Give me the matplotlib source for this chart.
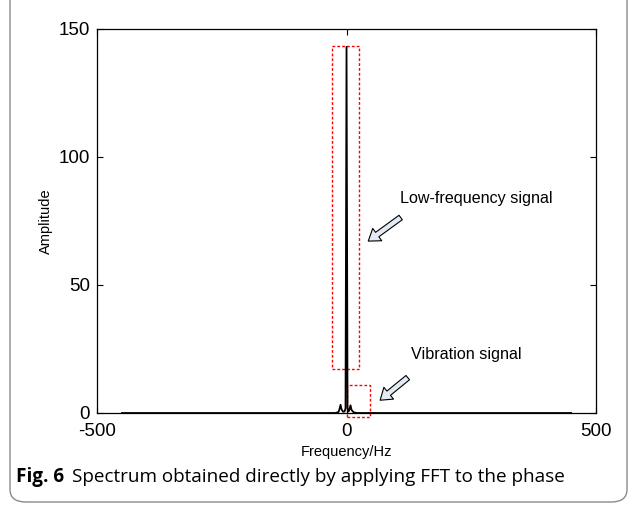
import matplotlib
matplotlib.use('Agg')
import matplotlib.pyplot as plt
from matplotlib.patches import Rectangle, FancyArrowPatch, FancyBboxPatch

# spectrum samples (Hz, amplitude)
freq = [-450, -22, -16, -14, -12, -10, -7, -4, -2, 0, 2, 4, 6, 8, 10, 14, 20, 450]
amp = [0, 0, 0.4, 1.6, 3.2, 1.4, 0.5, 0.6, 1.8, 143, 1.8, 0.6, 1.5, 3.0, 1.2, 0.3, 0, 0]

xticks = [-500, 0, 500]
yticks = [0, 50, 100, 150]

# boxes around the two spectral features (x0, y0, x1, y1)
low_box = (-29, 17.2, 25, 143.4)
vib_box = (0, -1.5, 47, 11)

plt.rcParams['font.family'] = ['Liberation Sans', 'DejaVu Sans']
plt.rcParams['axes.unicode_minus'] = False

fig = plt.figure(figsize=(6.37, 5.05), dpi=100)
ax = fig.add_axes([0.1523, 0.1822, 0.7834, 0.7604])

ax.plot(freq, amp, color='black', lw=1.3)

ax.set_xlim(-500, 500)
ax.set_ylim(0, 150)
ax.set_xticks(xticks)
ax.set_yticks(yticks)
ax.tick_params(direction='in', top=True, right=True, length=4, width=0.8,
               labelsize=13.5, pad=5)
ax.tick_params(axis='x', pad=7)
for s in ax.spines.values():
	s.set_linewidth(0.9)

ax.set_xlabel('Frequency/Hz', fontsize=10.5, labelpad=4)
ax.set_ylabel('Amplitude', fontsize=10.5, labelpad=4)

for b in (low_box, vib_box):
	ax.add_patch(Rectangle((b[0], b[1]), b[2]-b[0], b[3]-b[1], fill=False,
	                       edgecolor='red', lw=1.0, ls=(0, (2, 1.5)), clip_on=False))

arrow_style = 'simple,head_length=8,head_width=11,tail_width=4'
ax.add_patch(FancyArrowPatch((113, 77), (39, 66.5), arrowstyle=arrow_style,
                             facecolor='#e3eaf3', edgecolor='black', lw=0.8,
                             mutation_scale=1))
ax.add_patch(FancyArrowPatch((127, 14.5), (63, 4.3), arrowstyle=arrow_style,
                             facecolor='#e3eaf3', edgecolor='black', lw=0.8,
                             mutation_scale=1, clip_on=False))

ax.text(107, 83.6, 'Low-frequency signal', fontsize=11.6, va='center')
ax.text(129, 23, 'Vibration signal', fontsize=11.6, va='center')

# rounded frame and caption
fig.patches.append(FancyBboxPatch((10/637, 3/505), 617/637, 530/505,
                                  boxstyle='round,pad=0,rounding_size=0.025',
                                  transform=fig.transFigure, fill=False,
                                  edgecolor='#8a8a8a', lw=1.0))
fig.text(16/637, 1-477/505, 'Fig. 6', fontsize=13.6, fontweight='bold',
         family=['Open Sans', 'DejaVu Sans'], va='center')
fig.text(72/637, 1-477/505, 'Spectrum obtained directly by applying FFT to the phase',
         fontsize=13.6, family=['Open Sans', 'DejaVu Sans'], va='center')

plt.savefig('out.png', dpi=100)
